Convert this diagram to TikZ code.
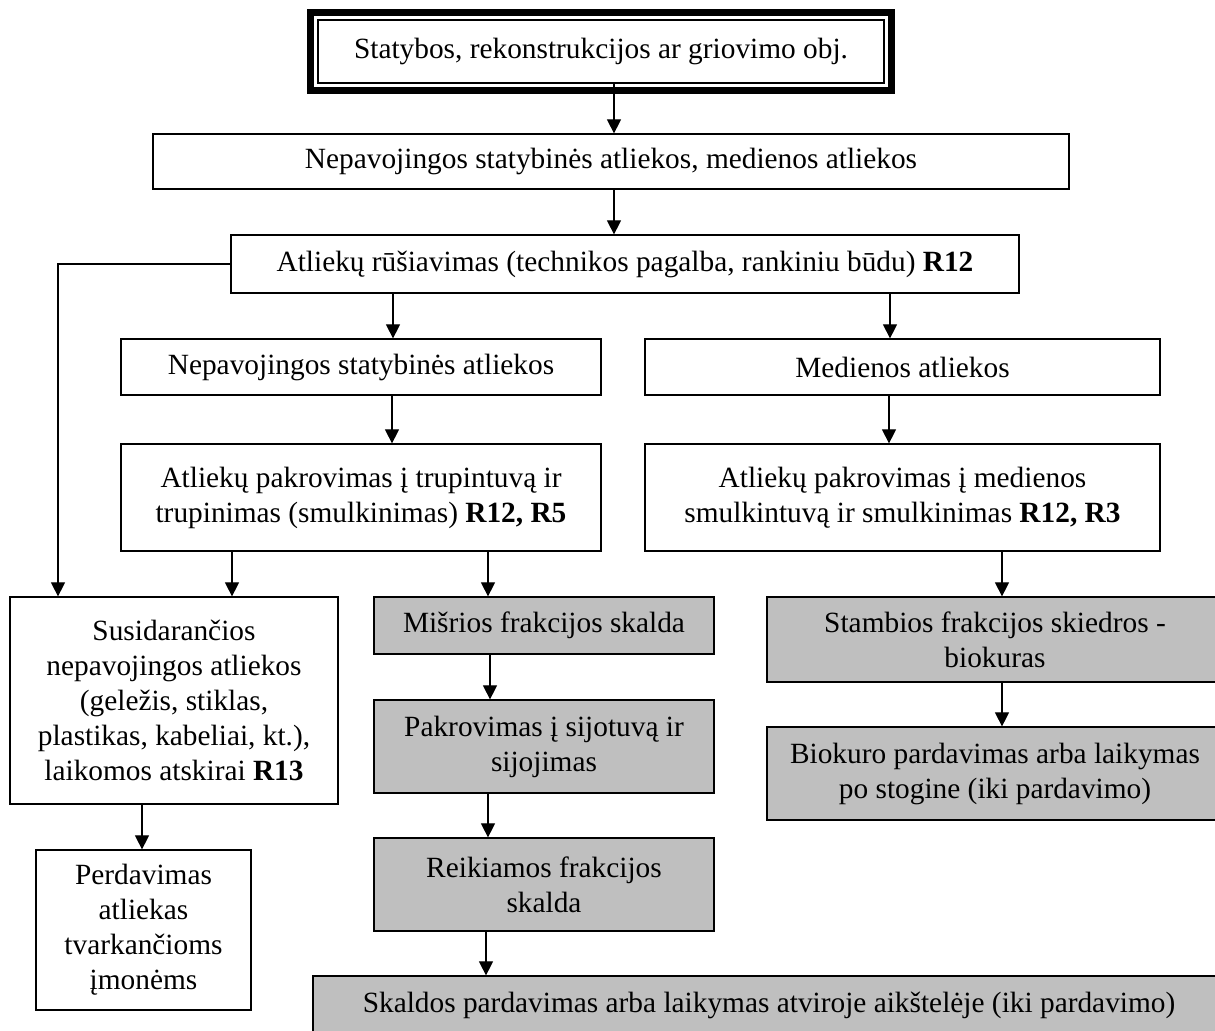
\documentclass[tikz,border=0pt]{standalone}
\usepackage{fontspec}
\setmainfont{Liberation Serif}
\usetikzlibrary{arrows.meta}

\begin{document}
\begin{tikzpicture}[
    every node/.style={font=\fontsize{16.7}{19.9}\selectfont},
    blok/.style={draw, line width=0.7pt, align=center, inner sep=2pt},
    pilka/.style={blok, fill=gray!50},
    rodykle/.style={-{Triangle[length=0.28cm,width=0.28cm]}, line width=0.6pt}]
  \useasboundingbox (0,0) rectangle (24.3,-20.6);

  \node[blok, minimum width=11.32cm, minimum height=1.26cm] (objektas) at (12.02,-1.03)
    {Statybos, rekonstrukcijos ar griovimo obj.};
  \draw[line width=0.14cm] ([shift={(-0.13,-0.13)}]objektas.south west)
    rectangle ([shift={(0.13,0.13)}]objektas.north east);

  \node[blok, minimum width=18.32cm, minimum height=1.1cm] (atliekos) at (12.22,-3.23)
    {Nepavojingos statybinės atliekos, medienos atliekos};
  \node[blok, minimum width=15.76cm, minimum height=1.16cm] (rusiavimas) at (12.5,-5.28)
    {Atliekų rūšiavimas (technikos pagalba, rankiniu būdu) \textbf{R12}};

  \node[blok, minimum width=9.6cm, minimum height=1.12cm] (statybines) at (7.22,-7.34)
    {Nepavojingos statybinės atliekos};
  \node[blok, minimum width=10.3cm, minimum height=1.12cm] (mediena) at (18.05,-7.34)
    {Medienos atliekos};
  \node[blok, minimum width=9.6cm, minimum height=2.14cm] (trupinimas) at (7.22,-9.95)
    {Atliekų pakrovimas į trupintuvą ir\\ trupinimas (smulkinimas) \textbf{R12, R5}};
  \node[blok, minimum width=10.3cm, minimum height=2.14cm] (smulkinimas) at (18.05,-9.95)
    {Atliekų pakrovimas į medienos\\ smulkintuvą ir smulkinimas \textbf{R12, R3}};

  \node[blok, minimum width=6.56cm, minimum height=4.14cm] (susidarancios) at (3.48,-14.01)
    {Susidarančios\\ nepavojingos atliekos\\ (geležis, stiklas,\\ plastikas, kabeliai, kt.),\\ laikomos atskirai \textbf{R13}};
  \node[blok, minimum width=4.3cm, minimum height=3.2cm] (perdavimas) at (2.87,-18.6)
    {Perdavimas\\ atliekas\\ tvarkančioms\\ įmonėms};

  \node[pilka, minimum width=6.8cm, minimum height=1.14cm] (misri) at (10.88,-12.51)
    {Mišrios frakcijos skalda};
  \node[pilka, minimum width=6.8cm, minimum height=1.86cm] (sijojimas) at (10.88,-14.93)
    {Pakrovimas į sijotuvą ir\\ sijojimas};
  \node[pilka, minimum width=6.8cm, minimum height=1.86cm] (reikiama) at (10.88,-17.69)
    {Reikiamos frakcijos\\ skalda};
  \node[pilka, minimum width=18.24cm, minimum height=1.16cm] (skalda) at (15.38,-20.1)
    {Skaldos pardavimas arba laikymas atviroje aikštelėje (iki pardavimo)};

  \node[pilka, minimum width=9.12cm, minimum height=1.7cm] (skiedros) at (19.9,-12.79)
    {Stambios frakcijos skiedros -\\ biokuras};
  \node[pilka, minimum width=9.12cm, minimum height=1.86cm] (biokuras) at (19.9,-15.47)
    {Biokuro pardavimas arba laikymas\\ po stogine (iki pardavimo)};

  % rodykles zemyn
  \foreach \a/\b/\x in {objektas/atliekos/12.28, atliekos/rusiavimas/12.28,
      rusiavimas/statybines/7.86, rusiavimas/mediena/17.8,
      statybines/trupinimas/7.84, mediena/smulkinimas/17.78,
      trupinimas/susidarancios/4.64, trupinimas/misri/9.76,
      smulkinimas/skiedros/20.04, skiedros/biokuras/20.04,
      misri/sijojimas/9.8, sijojimas/reikiama/9.76, reikiama/skalda/9.72,
      susidarancios/perdavimas/2.84}
    \draw[rodykle] (\a.south -| \x,0) -- (\b.north -| \x,0);

  \draw[rodykle] (rusiavimas.west) -| (susidarancios.north -| 1.16,0);
\end{tikzpicture}
\end{document}
